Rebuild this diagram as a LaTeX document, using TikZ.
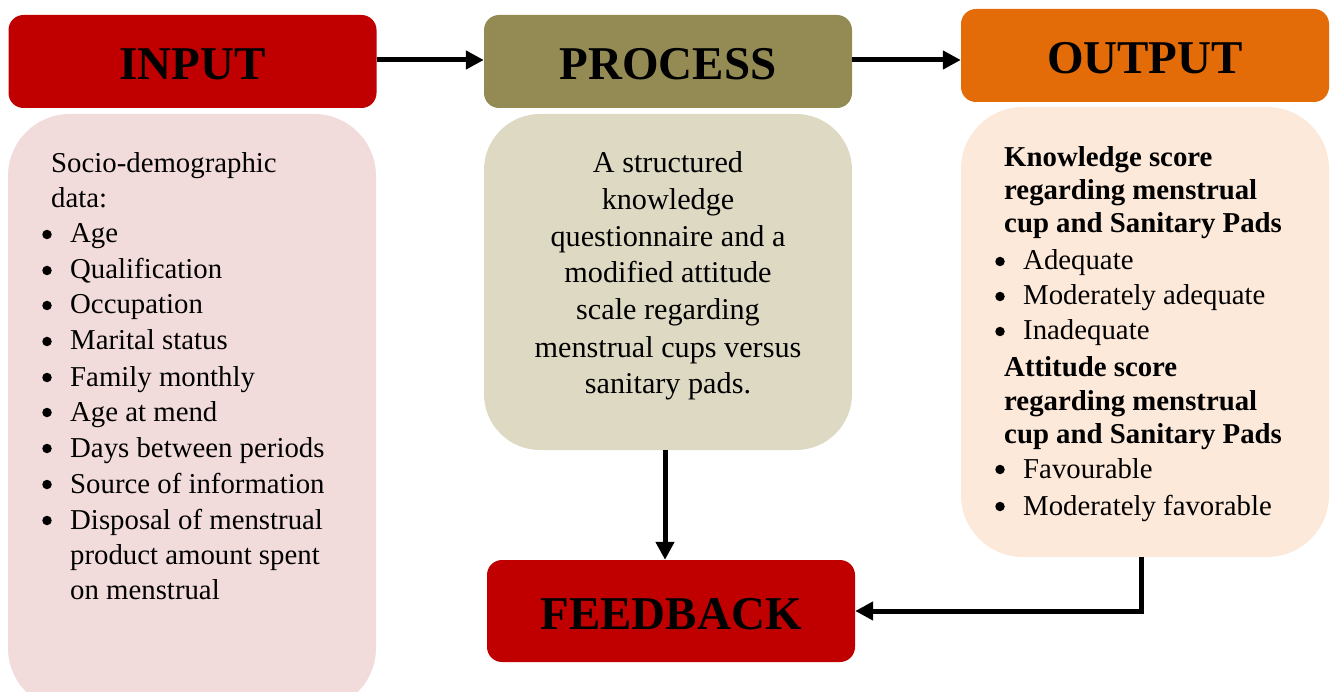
\documentclass[tikz,border=0pt]{standalone}
\usepackage{fontspec}
\setmainfont{Liberation Serif}
\usetikzlibrary{arrows.meta}
\definecolor{hred}{RGB}{192,0,0}
\definecolor{hproc}{RGB}{148,138,84}
\definecolor{hout}{RGB}{227,108,9}
\definecolor{cin}{RGB}{242,220,219}
\definecolor{cproc}{RGB}{221,217,195}
\definecolor{cout}{RGB}{253,233,217}
\begin{document}
\begin{tikzpicture}[x=1pt,y=-1pt,
  head/.style={rounded corners=15pt, minimum width=368pt, minimum height=93pt, inner sep=0pt,
    text height=36pt, text depth=0pt, font=\fontsize{47pt}{50pt}\selectfont\bfseries},
  inpanel/.style={rounded corners=62pt, minimum width=368pt, inner sep=0pt},
  procpanel/.style={rounded corners=56pt, minimum width=368pt, inner sep=0pt},
  txt/.style={anchor=base west, inner sep=0pt, font=\fontsize{28.8pt}{34pt}\selectfont},
  btxt/.style={anchor=base west, inner sep=0pt, font=\fontsize{28.8pt}{34pt}\selectfont\bfseries},
  ctxt/.style={anchor=base, inner sep=0pt, font=\fontsize{30.2pt}{34pt}\selectfont},
  bul/.style={circle, fill=black, inner sep=0pt, minimum size=9.5pt, yshift=8.5pt},
  conn/.style={line width=5pt, -{Triangle[length=18pt,width=18pt]}}
]
\useasboundingbox (0,0) rectangle (1330,692);
\fill[white] (0,0) rectangle (1330,692);

% header boxes
\node[head, fill=hred] (inh) at (192.5,61.5) {INPUT};
\node[head, fill=hproc] (proch) at (668,61.5) {PROCESS};
\node[head, fill=hout] (outh) at (1145,55.5) {OUTPUT};
\node[head, fill=hred, minimum height=102pt] (fb) at (671,611) {FEEDBACK};

% content panels
\begin{scope}
\clip (0,0) rectangle (1330,692);
\node[inpanel, fill=cin, minimum height=596pt] (inc) at (192,412) {};
\end{scope}
\node[procpanel, fill=cproc, minimum height=336pt] (pc) at (668,282) {};
\node[inpanel, fill=cout, minimum height=450pt] (oc) at (1145,332) {};

% input text
\node[txt] (in-h1) at (51,173) {Socio-demographic};
\node[txt] (in-h2) at (51,208) {data:};
\foreach \yy/\tt [count=\i] in {243/Age, 279/Qualification, 314/Occupation, 350/Marital status,
  386/Family monthly, 421/Age at mend, 457/Days between periods, 493/Source of information,
  529/Disposal of menstrual}{
  \node[bul] (in-b\i) at (47,\yy) {};
  \node[txt] (in-t\i) at (70,\yy) {\tt};
}
\node[txt] (in-c1) at (70,564) {product amount spent};
\node[txt] (in-c2) at (70,599) {on menstrual};

% process text
\foreach \yy/\tt [count=\i] in {173/A structured, 210/knowledge, 247/questionnaire and a,
  283/modified attitude, 320/scale regarding, 357/menstrual cups versus, 393/sanitary pads.}{
  \node[ctxt] (pr-t\i) at (668,\yy) {\tt};
}

% output text
\node[btxt] (ou-k1) at (1004,167) {Knowledge score};
\node[btxt] (ou-k2) at (1004,200) {regarding menstrual};
\node[btxt] (ou-k3) at (1004,233) {cup and Sanitary Pads};
\foreach \yy/\tt [count=\i] in {270/Adequate, 305/Moderately adequate, 340/Inadequate}{
  \node[bul] (ou-kb\i) at (1000,\yy) {};
  \node[txt] (ou-kt\i) at (1023,\yy) {\tt};
}
\node[btxt] (ou-a1) at (1004,377) {Attitude score};
\node[btxt] (ou-a2) at (1004,410) {regarding menstrual};
\node[btxt] (ou-a3) at (1004,443) {cup and Sanitary Pads};
\foreach \yy/\tt [count=\i] in {478/Favourable, 515/Moderately favorable}{
  \node[bul] (ou-ab\i) at (1000,\yy) {};
  \node[txt] (ou-at\i) at (1023,\yy) {\tt};
}

% connectors
\draw[conn] ([yshift=1.5pt]inh.east) -- ([yshift=1.5pt]inh.east -| proch.west);
\draw[conn] ([yshift=1.5pt]proch.east) -- ([yshift=1.5pt]proch.east -| outh.west);
\draw[conn] ([xshift=-3pt]pc.south) -- ([xshift=-3pt]pc.south |- fb.north);
\draw[conn] ([xshift=-4pt]oc.south) |- (fb.east);
\end{tikzpicture}
\end{document}
